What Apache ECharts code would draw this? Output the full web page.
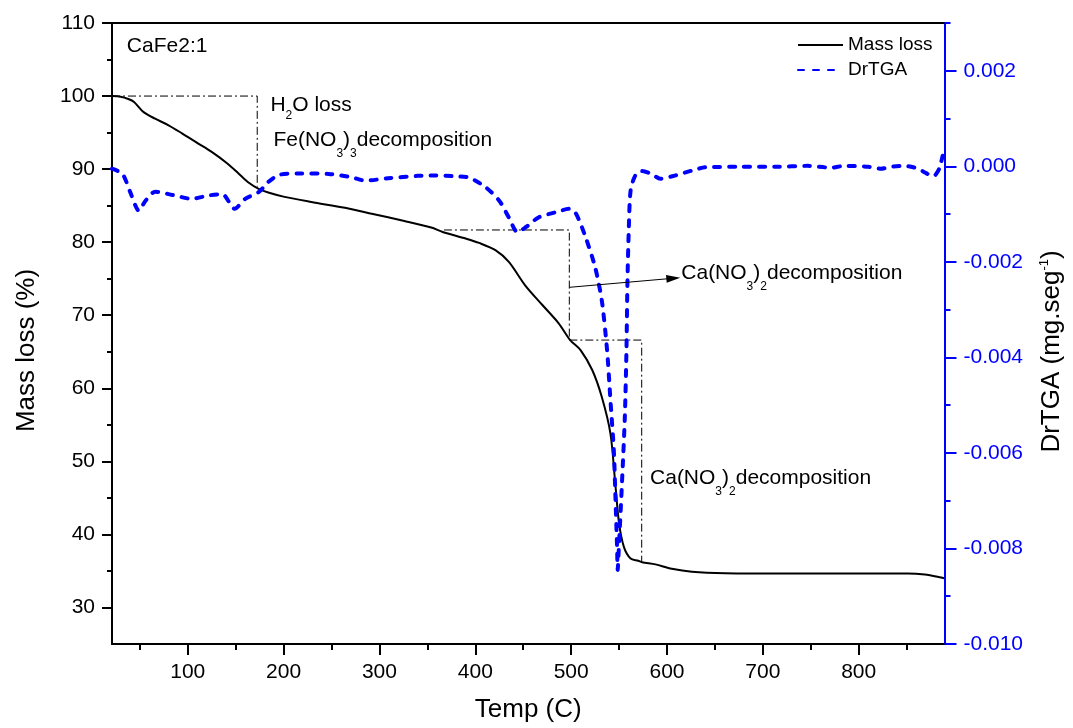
<!DOCTYPE html>
<html><head><meta charset="utf-8">
<script src="https://cdn.jsdelivr.net/npm/echarts@6/dist/echarts.min.js"></script>
<style>html,body{margin:0;padding:0;background:#fff}#c{width:1073px;height:728px}</style>
</head><body><div id="c"></div>
<script>
// ---------- data ----------
const xMajorTicks = [100, 200, 300, 400, 500, 600, 700, 800];
const xMinorTicks = [50, 150, 250, 350, 450, 550, 650, 750, 850];
const yMajorTicks = [30, 40, 50, 60, 70, 80, 90, 100, 110];
const yMinorTicks = [35, 45, 55, 65, 75, 85, 95, 105];
const rMajorTicks = [-0.010, -0.008, -0.006, -0.004, -0.002, 0.000, 0.002];
const rMinorTicks = [-0.009, -0.007, -0.005, -0.003, -0.001, 0.001, 0.003];

const seriesNames = ['Mass loss', 'DrTGA'];

// Mass loss (%) vs Temp (C)
const massData = [
  [21,100.0],[30,99.9],[38,99.6],[44,99.2],[54,97.8],[66,96.9],[80,96.0],[94,94.9],
  [111,93.5],[125,92.35],[141,90.8],[153,89.4],[163,88.2],[174,87.3],[184,86.8],
  [201,86.2],[229,85.5],[264,84.7],[292,83.9],[326,82.9],[354,82.0],[366,81.4],
  [390,80.5],[404,79.9],[421,78.9],[435,77.3],[452,74.1],[470,71.4],[487,68.9],
  [499,66.6],[510,65.2],[522,62.5],[532,58.8],[541,53.8],[546,47.0],[550,41.5],
  [555,38.3],[562,36.7],[570,36.4],[574,36.2],[588,35.9],[605,35.3],[626,34.9],
  [661,34.7],[730,34.65],[799,34.65],[851,34.65],[869,34.5],[886,34.1],[889,34.0]
];

// DrTGA (mg.seg^-1) vs Temp (C)
const drtgaData = [
  [21,-0.00005],[32,-0.00016],[40,-0.00054],[49,-0.00093],[56,-0.00072],[66,-0.00053],
  [84,-0.00060],[104,-0.00068],[122,-0.00061],[136,-0.00058],[149,-0.00089],[160,-0.00068],
  [174,-0.00054],[184,-0.00033],[195,-0.00018],[215,-0.00015],[247,-0.00016],[271,-0.00023],
  [285,-0.00030],[309,-0.00025],[340,-0.00020],[356,-0.00019],[380,-0.00021],[394,-0.00024],
  [411,-0.00044],[425,-0.00072],[435,-0.00107],[444,-0.00138],[453,-0.00127],[466,-0.00107],
  [484,-0.00096],[498,-0.00089],[505,-0.00099],[515,-0.00148],[525,-0.00211],[532,-0.00281],
  [537.5,-0.00385],[541,-0.00490],[544.5,-0.00594],[546.3,-0.00699],[548,-0.00803],[548.5,-0.00845],
  [550,-0.00789],[553,-0.00664],[556,-0.00525],[557.7,-0.00385],[558.7,-0.00246],[560,-0.00141],
  [562,-0.00051],[567,-0.00019],[574,-0.00010],[584,-0.00016],[593,-0.00026],[609,-0.00019],
  [626,-0.00009],[640,-0.00002],[678,-0.00001],[713,-0.00001],[747,0.00001],[771,-0.00003],
  [785,0.00001],[810,-0.00001],[823,-0.00005],[834,-0.00001],[848,0.00001],[862,-0.00005],
  [869,-0.00013],[878,-0.00021],[884,-0.00005],[887.5,0.00022]
];

// dash-dot guide lines (Temp, Mass)
const guide1 = [[21,100],[172.5,100],[172.5,87.6]];
const guide2 = [[367.3,81.67],[498.1,81.67],[498.1,66.6]];
const guide3 = [[498.1,66.6],[573.6,66.6],[573.6,36.27]];
const arrowLine = [[498.1,73.82],[606.6,75.06]];

// annotations (Temp, Mass of the text's left/middle)
const annotationX = [36.5, 186.3, 189.4, 614.9, 582.3];
const annotationY = [106.76, 98.78, 93.99, 75.74, 47.72];
const annotationTexts = [
  '{m|CaFe2:1}',
  '{m|H}{t|2}{m|O loss}',
  '{m|Fe(NO}{s|3}{m|)}{s|3}{m|decomposition}',
  '{m|Ca(NO}{s|3}{m|)}{s|2}{m|decomposition}',
  '{m|Ca(NO}{s|3}{m|)}{s|2}{m|decomposition}'
];

// ---------- chart ----------
const FONT = 'Liberation Sans, Arial, sans-serif';
const BLUE = '#0000ff';
const X_MIN = 21, X_MAX = 889.5;
const Y_MIN = 25, Y_MAX = 110;
const R_MIN = -0.010, R_MAX = 0.003;

const chart = echarts.init(document.getElementById('c'), null, {renderer: 'canvas'});

const noLine = {show: false, onZero: false};
function fmtR(v) { return Math.abs(v) < 1e-9 ? '0.000' : v.toFixed(3); }

const option = {
  animation: false,
  backgroundColor: '#fff',
  textStyle: {fontFamily: FONT, color: '#000'},
  grid: {left: 112, right: 126, top: 23, bottom: 84, containLabel: false},
  legend: {
    data: seriesNames,
    orient: 'vertical',
    left: 797, top: 35,
    padding: 0,
    itemWidth: 45, itemHeight: 20, itemGap: 5,
    itemStyle: {opacity: 0},
    textStyle: {fontSize: 19, color: '#000', fontFamily: FONT, lineHeight: 20},
    selectedMode: false
  },
  xAxis: [
    {
      type: 'value', min: X_MIN, max: X_MAX, position: 'bottom',
      axisLine: {show: true, onZero: false, lineStyle: {color: '#000', width: 2}},
      axisTick: {show: true, inside: false, length: 11, customValues: xMajorTicks, lineStyle: {color: '#000', width: 2}},
      axisLabel: {show: true, customValues: xMajorTicks, fontSize: 21, color: '#000', margin: 18, fontFamily: FONT},
      splitLine: {show: false},
      name: 'Temp (C)', nameLocation: 'middle', nameGap: 53,
      nameTextStyle: {fontSize: 26, color: '#000', fontFamily: FONT}
    },
    {
      type: 'value', min: X_MIN, max: X_MAX, position: 'bottom',
      axisLine: noLine,
      axisTick: {show: true, inside: false, length: 6, customValues: xMinorTicks, lineStyle: {color: '#000', width: 2}},
      axisLabel: {show: false}, splitLine: {show: false}
    },
    {
      type: 'value', min: X_MIN, max: X_MAX, position: 'top',
      axisLine: {show: true, onZero: false, lineStyle: {color: '#000', width: 2}},
      axisTick: {show: false}, axisLabel: {show: false}, splitLine: {show: false}
    }
  ],
  yAxis: [
    {
      type: 'value', min: Y_MIN, max: Y_MAX, position: 'left',
      axisLine: {show: true, onZero: false, lineStyle: {color: '#000', width: 2}},
      axisTick: {show: true, inside: false, length: 10, customValues: yMajorTicks, lineStyle: {color: '#000', width: 2}},
      axisLabel: {show: true, customValues: yMajorTicks, fontSize: 21, color: '#000', margin: 17, fontFamily: FONT},
      splitLine: {show: false},
      name: 'Mass loss (%)', nameLocation: 'middle', nameGap: 72, nameRotate: 90,
      nameTextStyle: {fontSize: 26, color: '#000', fontFamily: FONT, padding: [0, 34, 0, 0]}
    },
    {
      type: 'value', min: Y_MIN, max: Y_MAX, position: 'left',
      axisLine: noLine,
      axisTick: {show: true, inside: false, length: 5, customValues: yMinorTicks, lineStyle: {color: '#000', width: 2}},
      axisLabel: {show: false}, splitLine: {show: false}
    },
    {
      type: 'value', min: R_MIN, max: R_MAX, position: 'right',
      axisLine: {show: true, onZero: false, lineStyle: {color: BLUE, width: 2}},
      axisTick: {show: true, inside: false, length: 12, customValues: rMajorTicks, lineStyle: {color: BLUE, width: 2}},
      axisLabel: {show: true, customValues: rMajorTicks, fontSize: 21, color: BLUE, margin: 19, fontFamily: FONT, formatter: fmtR},
      splitLine: {show: false},
      name: '{a|DrTGA (mg.seg}{p|-1}{a|)}', nameLocation: 'middle', nameGap: 93, nameRotate: 90,
      nameTextStyle: {
        color: '#000', fontFamily: FONT, padding: [0, 36, 0, 0],
        rich: {
          a: {fontSize: 26, color: '#000', fontFamily: FONT, lineHeight: 28},
          p: {fontSize: 13, color: '#000', fontFamily: FONT, lineHeight: 28, padding: [0, 0, 14, 0]}
        }
      }
    },
    {
      type: 'value', min: R_MIN, max: R_MAX, position: 'right',
      axisLine: noLine,
      axisTick: {show: true, inside: false, length: 6, customValues: rMinorTicks, lineStyle: {color: BLUE, width: 2}},
      axisLabel: {show: false}, splitLine: {show: false}
    }
  ],
  series: [
    {
      name: 'guide1', type: 'line', xAxisIndex: 0, yAxisIndex: 0, data: guide1,
      symbol: 'none', silent: true,
      lineStyle: {color: '#000', width: 1, type: [8, 3, 2, 3]}
    },
    {
      name: 'guide2', type: 'line', xAxisIndex: 0, yAxisIndex: 0, data: guide2,
      symbol: 'none', silent: true,
      lineStyle: {color: '#000', width: 1, type: [8, 3, 2, 3]}
    },
    {
      name: 'guide3', type: 'line', xAxisIndex: 0, yAxisIndex: 0, data: guide3,
      symbol: 'none', silent: true,
      lineStyle: {color: '#000', width: 1, type: [8, 3, 2, 3]}
    },
    {
      name: seriesNames[0], type: 'line', xAxisIndex: 0, yAxisIndex: 0, data: massData,
      symbol: 'none', smooth: 0.3, silent: true,
      itemStyle: {color: '#000'},
      lineStyle: {color: '#000', width: 2},
      markLine: {
        silent: true,
        symbol: ['none', 'triangle'],
        symbolSize: [8, 14],
        label: {show: false},
        lineStyle: {color: '#000', width: 1, type: 'solid'},
        data: [[{coord: arrowLine[0]}, {coord: arrowLine[1]}]]
      }
    },
    {
      name: seriesNames[1], type: 'line', xAxisIndex: 0, yAxisIndex: 2, data: drtgaData,
      symbol: 'none', smooth: 0.25, silent: true,
      itemStyle: {color: BLUE},
      lineStyle: {color: BLUE, width: 4, type: [6, 9], cap: 'round'}
    },
    {
      name: 'annotations', type: 'scatter', xAxisIndex: 0, yAxisIndex: 0,
      data: annotationX.map((x, i) => ({value: [x, annotationY[i]], name: String(i)})),
      symbolSize: 0, silent: true,
      itemStyle: {color: '#000', opacity: 1},
      label: {
        show: true, position: 'right', distance: 0, color: '#000',
        formatter: (p) => annotationTexts[p.dataIndex],
        lineHeight: 24,
        rich: {
          m: {fontSize: 21, color: '#000', fontFamily: FONT, lineHeight: 24},
          s: {fontSize: 12, color: '#000', fontFamily: FONT, lineHeight: 24, padding: [27, 0, 0, 0]},
          t: {fontSize: 12, color: '#000', fontFamily: FONT, lineHeight: 24, padding: [22, 0, 0, 0]}
        }
      }
    }
  ]
};
chart.setOption(option);
</script>
</body></html>
